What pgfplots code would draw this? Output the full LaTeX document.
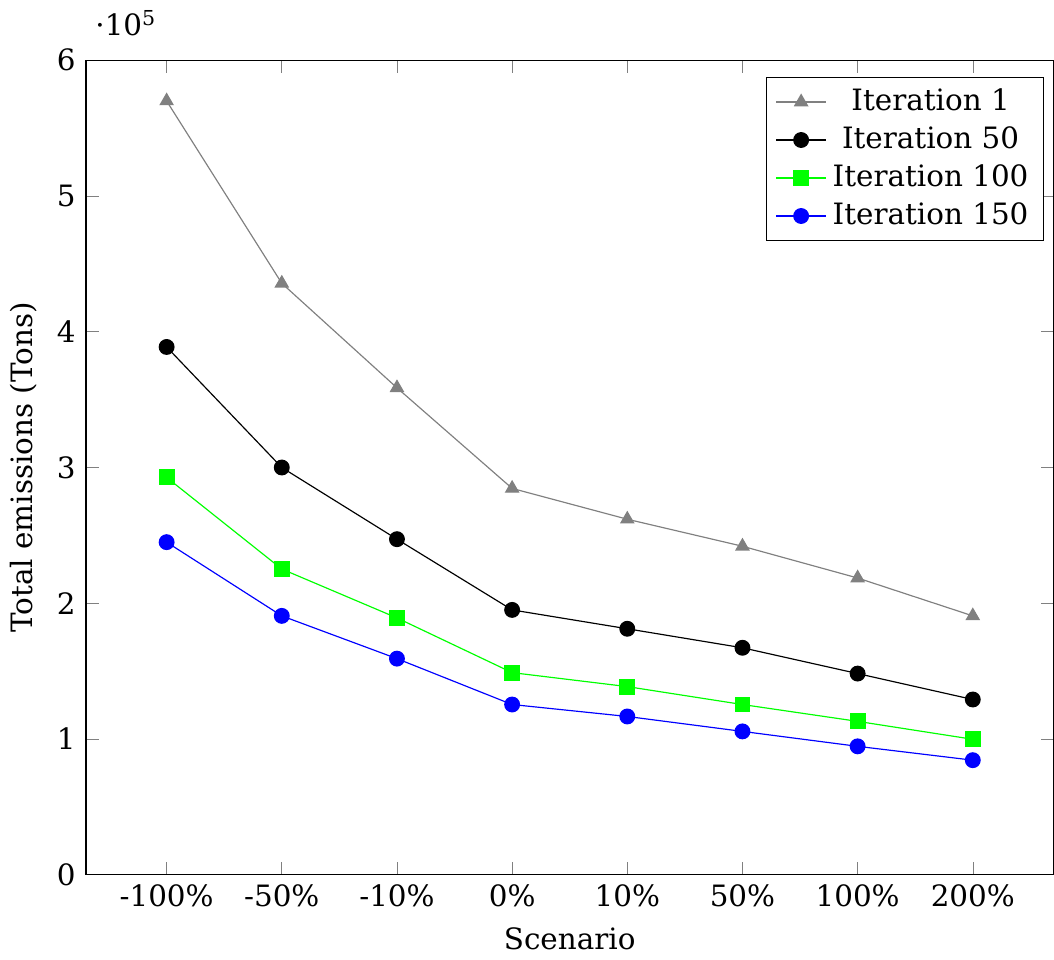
\documentclass[border=0pt]{standalone}
\usepackage{fontspec}
\setmainfont{DejaVu Serif}
\usepackage{pgfplots}
\pgfplotsset{compat=1.18}
\begin{document}
\begin{tikzpicture}
\begin{axis}[
  scale only axis,
  width=329pt, height=277pt,
  ymin=0, ymax=6,
  ytick={0,1,2,3,4,5,6},
  xtick=data,
  xticklabels={-100\%,-50\%,-10\%,0\%,10\%,50\%,100\%,200\%},
  enlarge x limits=0.1,
  xlabel={Scenario},
  ylabel={Total emissions (Tons)},
  /pgf/number format/assume math mode=true,
  legend style={at={(0.99,0.98)},anchor=north east,font=\normalsize},
  legend cell align=center,
  mark size=2.5pt,
  clip=false,
]
\addplot[gray, mark=triangle*, mark options={fill=gray}] coordinates {
(0,5.700) (1,4.357) (2,3.587) (3,2.846) (4,2.619) (5,2.420) (6,2.186) (7,1.907)};
\addlegendentry{Iteration 1}
\addplot[black, mark=*, mark options={fill=black}] coordinates {
(0,3.888) (1,3.000) (2,2.472) (3,1.951) (4,1.812) (5,1.672) (6,1.482) (7,1.291)};
\addlegendentry{Iteration 50}
\addplot[green, mark=square*, mark options={fill=green}] coordinates {
(0,2.927) (1,2.252) (2,1.892) (3,1.489) (4,1.386) (5,1.254) (6,1.130) (7,0.998)};
\addlegendentry{Iteration 100}
\addplot[blue, mark=*, mark options={fill=blue}] coordinates {
(0,2.450) (1,1.907) (2,1.592) (3,1.254) (4,1.166) (5,1.056) (6,0.946) (7,0.844)};
\addlegendentry{Iteration 150}
\node[anchor=south west, inner sep=0pt] at ([xshift=3pt,yshift=8pt]rel axis cs:0,1) {·10\textsuperscript{5}};
\path ([yshift=20.5pt]rel axis cs:0,1) coordinate (topext);
\end{axis}
\end{tikzpicture}
\end{document}
